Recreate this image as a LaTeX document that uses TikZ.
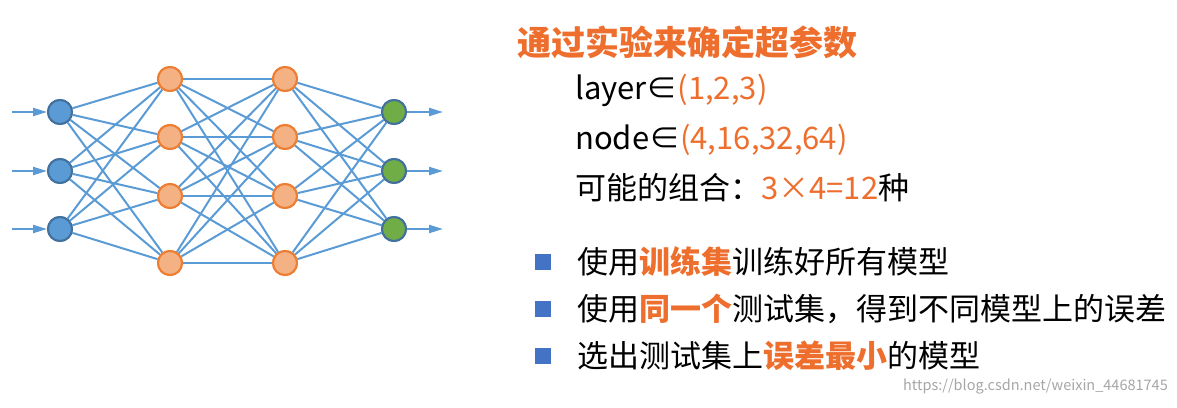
\documentclass[tikz,border=0pt]{standalone}
\usepackage{fontspec}
\setmainfont{Noto Sans CJK SC}
\usetikzlibrary{arrows.meta}
\definecolor{edge}{RGB}{91,155,213}
\definecolor{inb}{RGB}{91,155,213}
\definecolor{inbd}{RGB}{65,113,156}
\definecolor{hid}{RGB}{244,177,131}
\definecolor{hidd}{RGB}{237,125,49}
\definecolor{outg}{RGB}{112,173,71}
\definecolor{tor}{RGB}{237,110,45}
\definecolor{bul}{RGB}{68,114,196}
\tikzset{
 neu/.style={circle,minimum size=24pt,inner sep=0pt,line width=2pt},
 inn/.style={neu,fill=inb,draw=inbd},
 hnn/.style={neu,fill=hid,draw=hidd},
 onn/.style={neu,fill=outg,draw=inbd},
 con/.style={edge,line width=2pt},
 arr/.style={edge,line width=2.2pt,-{Triangle[length=14pt,width=8pt]}},
 txt/.style={anchor=west,inner sep=0pt,font=\fontsize{31}{34}\selectfont},
 bsq/.style={fill=bul,minimum size=16pt,inner sep=0pt}
}
\begin{document}
\begin{tikzpicture}[x=1pt,y=-1pt]
\useasboundingbox (0,0) rectangle (1177,407);
\foreach \i/\y in {1/112,2/171,3/229}{
 \node[inn] (a\i) at (60,\y) {};
 \node[onn] (d\i) at (394,\y) {};
 \coordinate (s\i) at (12,\y);
 \coordinate (e\i) at (443,\y);
}
\foreach \i/\y in {1/79,2/137,3/196,4/263}{
 \node[hnn] (b\i) at (170,\y) {};
 \node[hnn] (c\i) at (285,\y) {};
}
\foreach \i in {1,2,3}{\foreach \j in {1,2,3,4}{
 \draw[con] (a\i) -- (b\j);
 \draw[con] (c\j) -- (d\i);}}
\foreach \i in {1,2,3,4}{\foreach \j in {1,2,3,4}{
 \draw[con] (b\i) -- (c\j);}}
\foreach \i in {1,2,3}{
 \draw[arr] (s\i) -- (a\i);
 \draw[arr] (d\i) -- (e\i);}
\foreach \i/\y in {1/112,2/171,3/229}{
 \node[inn] at (60,\y) {};
 \node[onn] at (394,\y) {};}
\foreach \i/\y in {1/79,2/137,3/196,4/263}{
 \node[hnn] at (170,\y) {};
 \node[hnn] at (285,\y) {};}
\node[txt,font=\fontsize{34}{37}\selectfont\bfseries,text=tor] (title) at (517,42) {通过实验来确定超参数};
\node[txt] (l1) at (575,90) {layer∈\textcolor{tor}{(1,2,3)}};
\node[txt] (l2) at (575,140) {node∈\textcolor{tor}{(4,16,32,64)}};
\node[txt] (l3) at (575,188) {可能的组合：\textcolor{tor}{3×4=12}种};
\node[bsq] (q1) at (543,262) {};
\node[bsq] (q2) at (543,309) {};
\node[bsq] (q3) at (543,356) {};
\node[txt] (t1) at (577,262) {使用\textcolor{tor}{\bfseries 训练集}训练好所有模型};
\node[txt] (t2) at (577,309) {使用\textcolor{tor}{\bfseries 同一个}测试集，得到不同模型上的误差};
\node[txt] (t3) at (577,356) {选出测试集上\textcolor{tor}{\bfseries 误差最小}的模型};
\node[anchor=east,inner sep=0pt,text=black!35,font=\fontsize{14.5}{16}\selectfont] (wm) at (1168,387) {https://blog.csdn.net/weixin\_44681745};
\end{tikzpicture}
\end{document}
